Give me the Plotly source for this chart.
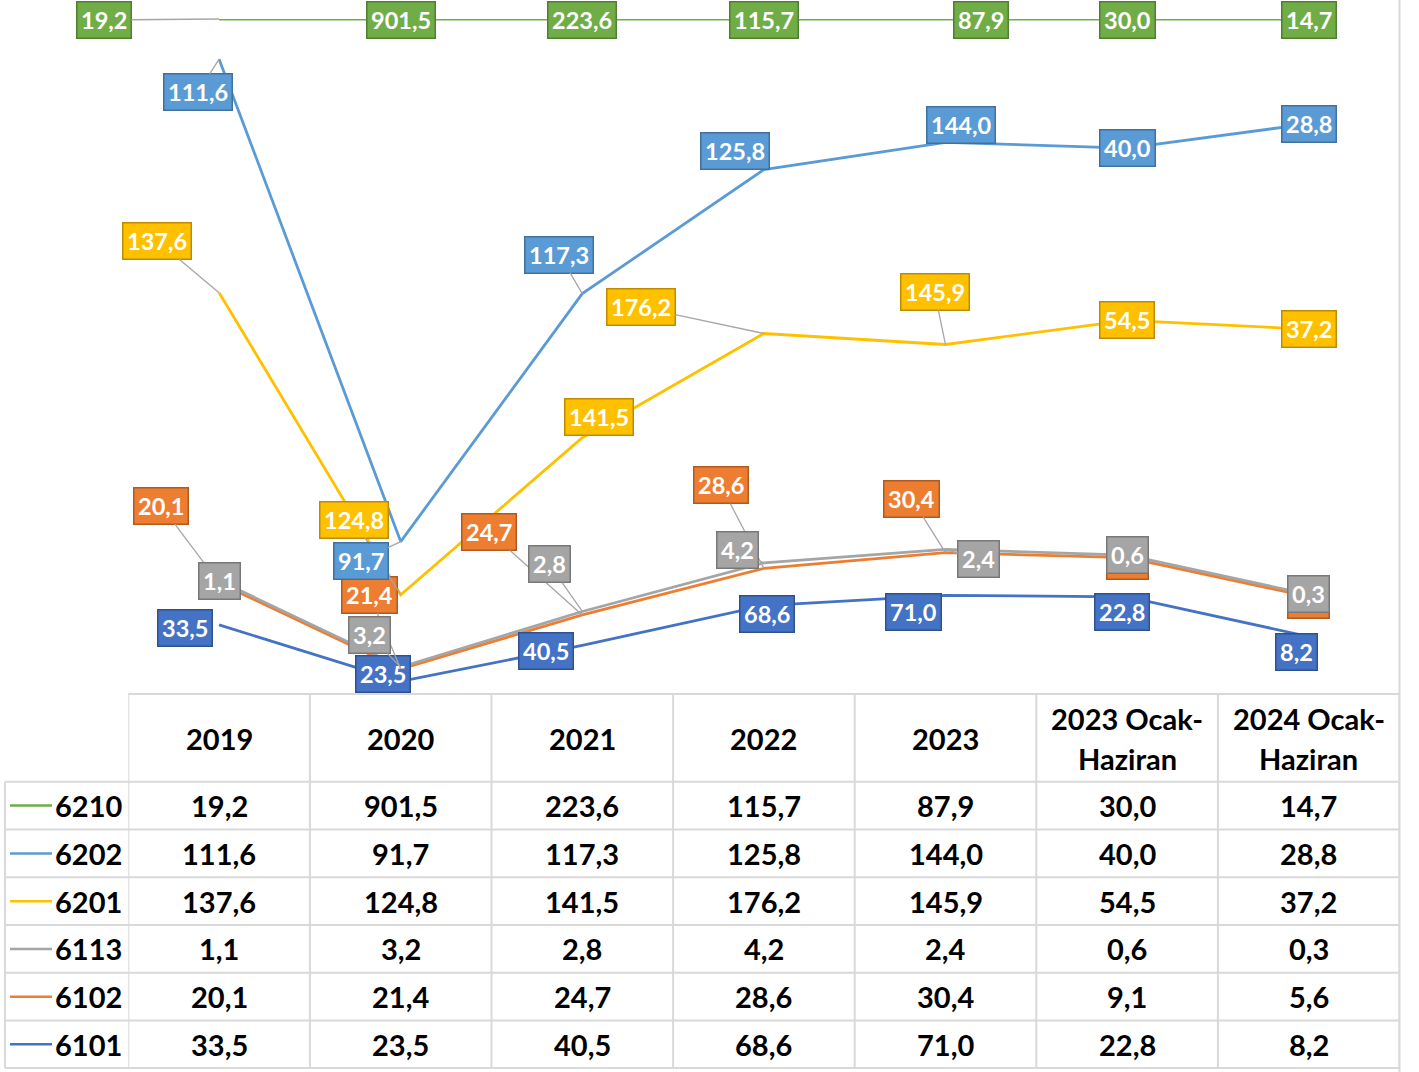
import plotly.graph_objects as go
import numpy as np

# ---------------- data ----------------
categories = ["2019", "2020", "2021", "2022", "2023", "2023 Ocak-Haziran", "2024 Ocak-Haziran"]
header_lines = [["2019"], ["2020"], ["2021"], ["2022"], ["2023"],
                ["2023 Ocak-", "Haziran"], ["2024 Ocak-", "Haziran"]]
table_order = ["6210", "6202", "6201", "6113", "6102", "6101"]
v6210 = [19.2, 901.5, 223.6, 115.7, 87.9, 30.0, 14.7]
v6202 = [111.6, 91.7, 117.3, 125.8, 144.0, 40.0, 28.8]
v6201 = [137.6, 124.8, 141.5, 176.2, 145.9, 54.5, 37.2]
v6113 = [1.1, 3.2, 2.8, 4.2, 2.4, 0.6, 0.3]
v6102 = [20.1, 21.4, 24.7, 28.6, 30.4, 9.1, 5.6]
v6101 = [33.5, 23.5, 40.5, 68.6, 71.0, 22.8, 8.2]

values = {"6210": v6210, "6202": v6202, "6201": v6201,
          "6113": v6113, "6102": v6102, "6101": v6101}

# ---------------- styles ----------------
stack_order = ["6101", "6102", "6113", "6201", "6202", "6210"]  # bottom -> top
colors = {"6210": "#70AD47", "6202": "#5B9BD5", "6201": "#FFC000",
          "6113": "#A5A5A5", "6102": "#ED7D31", "6101": "#4472C4"}
borders = {"6210": "#507E32", "6202": "#41719C", "6201": "#BC8C00",
           "6113": "#787878", "6102": "#AE5A21", "6101": "#2F528F"}
LEADER = "#A6A6A6"
# label offsets in pixels (dx, dy downward, leader line?)
offsets = {
    "6210": [(-115, 1, True), (0, 1, False), (0, 1, False), (0, 1, False),
             (35, 1, False), (0, 1, False), (0, 1, False)],
    "6202": [(-21, 33, True), (-40, 19, True), (-23, -39, True), (-29, -19, False),
             (15, -17, False), (0, 0, False), (0, 0, False)],
    "6201": [(-62, -52, True), (-47, -75, True), (17, -21, False), (-123, -26, True),
             (-11, -53, True), (0, 0, False), (0, 0, False)],
    "6113": [(0, 0, False), (-31, -32, True), (-33, -47, True), (-26, -13, True),
             (33, 10, True), (0, 0, False), (0, 0, False)],
    "6102": [(-58, -77, True), (-31, -74, True), (-93, -83, True), (-43, -83, True),
             (-34, -54, True), (0, 3, False), (0, 3, False)],
    "6101": [(-34, 3, False), (-18, -7, False), (-36, 6, False), (3, 8, False),
             (-32, 17, False), (-5, 15, False), (-12, 15, False)],
}

W, H = 1419, 1072
X0, X1 = 128.3, 1399.5      # plot area pixel extents
Y_TOP, Y_BOT = 19, 695
TABLE_TOP = 694
ROW_LINES = [781.7, 829.5, 877.3, 925.0, 972.8, 1020.6, 1068.0]
GRID = "#D9D9D9"
FONT = "Lato"

def py(p):
    return 1 - p / H

def px(p):
    return p / W

def fmt(v):
    return f"{v:.1f}".replace(".", ",")

fig = go.Figure()

# stacked (100%) lines
for k, name in enumerate(stack_order):
    fig.add_trace(go.Scatter(
        x=categories, y=values[name], name=name, mode="lines",
        stackgroup="one", groupnorm="percent" if k == 0 else None,
        fill="none", line=dict(color=colors[name], width=2.8),
        hoverinfo="skip", showlegend=False))

# cumulative percentages for label anchoring
arr = np.array([values[n] for n in stack_order])
cum = np.cumsum(arr, axis=0) / arr.sum(axis=0) * 100
cum_pct = {n: cum[i] for i, n in enumerate(stack_order)}

annotations = []
for name in stack_order:
    for i, cat in enumerate(categories):
        dx, dy, leader = offsets[name][i]
        annotations.append(dict(
            x=i, y=float(cum_pct[name][i]), xref="x", yref="y",
            text=f"<b>{fmt(values[name][i])}</b>",
            showarrow=True, ax=dx, ay=dy, arrowhead=0, arrowwidth=1.3,
            arrowcolor=LEADER if leader else "rgba(0,0,0,0)",
            bgcolor=colors[name], bordercolor=borders[name], borderwidth=1.5,
            borderpad=3.5, font=dict(family=FONT, size=23.5, color="white")))

# ---------------- data table ----------------
shapes = []
line_style = dict(color=GRID, width=2)
shapes.append(dict(type="line", xref="paper", yref="paper", x0=px(X0), x1=px(X1),
                   y0=py(TABLE_TOP), y1=py(TABLE_TOP), line=line_style))
for yl in ROW_LINES:
    shapes.append(dict(type="line", xref="paper", yref="paper", x0=px(5), x1=px(X1),
                       y0=py(yl), y1=py(yl), line=line_style))
for b in range(len(categories) + 1):
    xb = b - 0.5
    shapes.append(dict(type="line", xref="x", yref="paper", x0=xb, x1=xb,
                       y0=py(ROW_LINES[-1]), y1=py(TABLE_TOP), line=line_style))
shapes.append(dict(type="line", xref="paper", yref="paper", x0=px(5), x1=px(5),
                   y0=py(ROW_LINES[-1]), y1=py(ROW_LINES[0]), line=line_style))
shapes.append(dict(type="line", xref="paper", yref="paper", x0=px(X1), x1=px(X1),
                   y0=0, y1=1, line=line_style))

tfont = dict(family=FONT, size=29, color="#000000")
for i, lines in enumerate(header_lines):
    ys = [738] if len(lines) == 1 else [718, 758]
    for ln, yy in zip(lines, ys):
        annotations.append(dict(x=i, y=py(yy), xref="x", yref="paper",
                                text=f"<b>{ln}</b>", showarrow=False, font=tfont,
                                xanchor="center", yanchor="middle"))
for r, name in enumerate(table_order):
    yc = (ROW_LINES[r] + ROW_LINES[r + 1]) / 2
    shapes.append(dict(type="line", xref="paper", yref="paper", x0=px(10), x1=px(52),
                       y0=py(yc), y1=py(yc), line=dict(color=colors[name], width=2.5)))
    annotations.append(dict(x=px(124), y=py(yc), xref="paper", yref="paper",
                            text=f"<b>{name}</b>", showarrow=False, font=tfont,
                            xanchor="right", yanchor="middle"))
    for i, cat in enumerate(categories):
        annotations.append(dict(x=i, y=py(yc), xref="x", yref="paper",
                                text=f"<b>{fmt(values[name][i])}</b>", showarrow=False,
                                font=tfont, xanchor="center", yanchor="middle"))

fig.update_layout(
    width=W, height=H, margin=dict(l=0, r=0, t=0, b=0),
    paper_bgcolor="white", plot_bgcolor="white",
    xaxis=dict(domain=[px(X0), px(X1)], range=[-0.5, len(categories) - 0.5],
               type="category", showticklabels=False, showgrid=False,
               zeroline=False, showline=False, ticks=""),
    yaxis=dict(domain=[py(Y_BOT), py(Y_TOP)], range=[0, 100], showticklabels=False,
               showgrid=False, zeroline=False, showline=False, ticks=""),
    annotations=annotations, shapes=shapes, showlegend=False,
)

fig.write_html("out.html", config={"displayModeBar": False},
               post_script="document.body.style.margin='0';")
